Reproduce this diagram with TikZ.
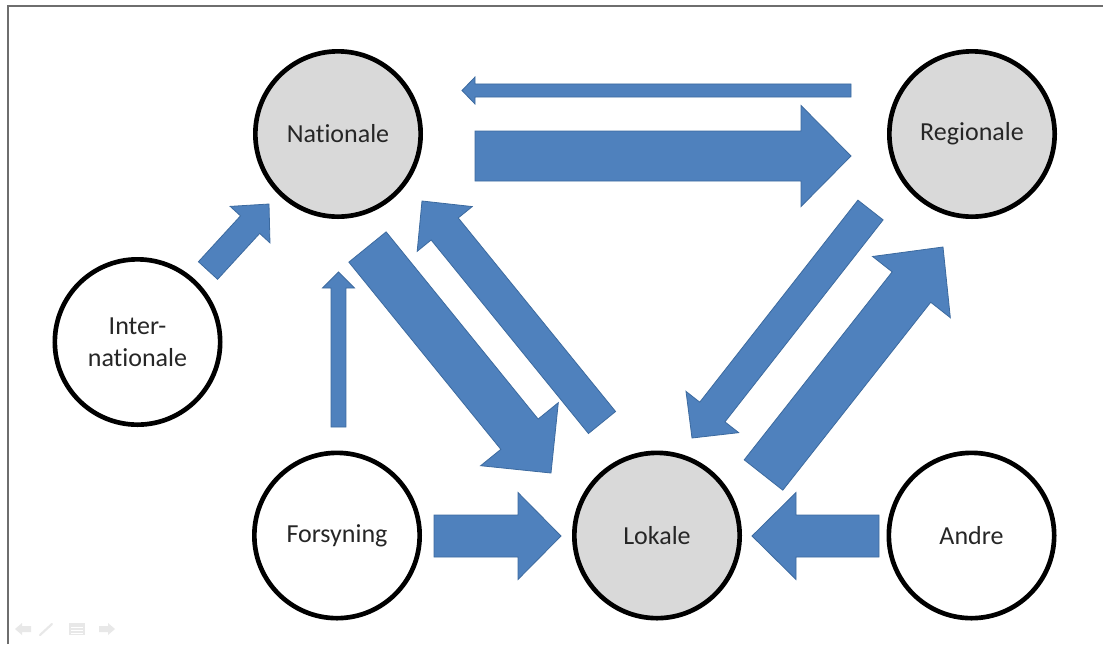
\documentclass[tikz,border=0pt]{standalone}
\usepackage{fontspec}
\setmainfont[Ligatures={NoCommon}]{Carlito}
\usetikzlibrary{calc}
\definecolor{arrowfill}{HTML}{4F81BD}
\definecolor{arrowline}{HTML}{3C6A9F}
\definecolor{circgray}{HTML}{D9D9D9}
\definecolor{framegray}{HTML}{6E6E6E}
\definecolor{icongray}{HTML}{E8E8E8}
\tikzset{
  barrow/.style={fill=arrowfill, draw=arrowline, line width=0.6pt, line join=miter},
  bubble/.style={circle, draw=black, line width=3.5pt, minimum size=124pt, inner sep=0pt,
    font=\fontsize{19.5pt}{24pt}\selectfont, align=center, text=black!85},
  graybubble/.style={bubble, fill=circgray},
  whitebubble/.style={bubble, fill=white},
}
\newcommand\blockarrow[5]{%
  \coordinate (#1-#2-c) at ($(#2)!#5!(#1)$);
  \filldraw[barrow] ($(#1)!#3!90:(#2)$) -- ($(#1-#2-c)!#3!90:(#2)$) -- ($(#1-#2-c)!#4!90:(#2)$) -- (#2)
    -- ($(#1-#2-c)!#4!-90:(#2)$) -- ($(#1-#2-c)!#3!-90:(#2)$) -- ($(#1)!#3!-90:(#2)$) -- cycle;
}
\begin{document}
\begin{tikzpicture}[x=0.75pt,y=-0.75pt]
\useasboundingbox (0,0) rectangle (1103,644);
\fill[white] (0,0) rectangle (1103,644);
% frame
\draw[framegray, line width=1.5pt] (8.3,644) -- (8.3,6.3) -- (1103,6.3);
% circles
\node[graybubble]  (nat) at (338,134) {Nationale};
\node[graybubble]  (reg) at (972,134) {Regionale};
\node[whitebubble] (int) at (137.5,342) {Inter-\\nationale};
\node[whitebubble] (for) at (337,535.5) {Forsyning};
\node[graybubble]  (lok) at (657,535.5) {Lokale};
\node[whitebubble] (and) at (971.5,535.5) {Andre};
% arrow end points
\coordinate (nrA) at (475,156);   \coordinate (nrB) at (851,156);
\coordinate (rnA) at (851,90.5);  \coordinate (rnB) at (462,90.5);
\coordinate (inA) at (208,270.5); \coordinate (inB) at (269,204);
\coordinate (fnA) at (338.5,427); \coordinate (fnB) at (338.5,272);
\coordinate (nlA) at (367.5,247); \coordinate (nlB) at (551,473);
\coordinate (lnA) at (602,422.5); \coordinate (lnB) at (422,201);
\coordinate (rlA) at (870.5,210); \coordinate (rlB) at (692,438);
\coordinate (lrA) at (763.5,475); \coordinate (lrB) at (943,247);
\coordinate (flA) at (434,536);   \coordinate (flB) at (561,536);
\coordinate (alA) at (879,536);   \coordinate (alB) at (752,536);
% arrows
\blockarrow{nrA}{nrB}{18.75pt}{37.9pt}{37.5pt}
\blockarrow{rnA}{rnB}{4.9pt}{10.1pt}{9.75pt}
\blockarrow{inA}{inB}{9.75pt}{20.25pt}{21pt}
\blockarrow{fnA}{fnB}{5.6pt}{12pt}{12pt}
\blockarrow{nlA}{nlB}{18pt}{37.5pt}{37.5pt}
\blockarrow{lnA}{lnB}{13.1pt}{26.6pt}{27pt}
\blockarrow{rlA}{rlB}{12pt}{25.1pt}{24.75pt}
\blockarrow{lrA}{lrB}{18.4pt}{37.1pt}{38.25pt}
\blockarrow{flA}{flB}{15.75pt}{32.6pt}{32.25pt}
\blockarrow{alA}{alB}{15.75pt}{32.6pt}{33pt}
% faint slide navigation icons
\fill[icongray] (15,629) -- (22,623) -- (22,626) -- (31,626) -- (31,632) -- (22,632) -- (22,635) -- cycle;
\draw[icongray, line width=1.6pt, line cap=round] (40,635) -- (52,624);
\fill[icongray] (69,623) rectangle (85,635);
\draw[white, line width=0.6pt] (71,627) -- (83,627) (71,630) -- (83,630) (71,633) -- (83,633);
\fill[icongray] (115,629) -- (108,623) -- (108,626) -- (99,626) -- (99,632) -- (108,632) -- (108,635) -- cycle;
\end{tikzpicture}
\end{document}
